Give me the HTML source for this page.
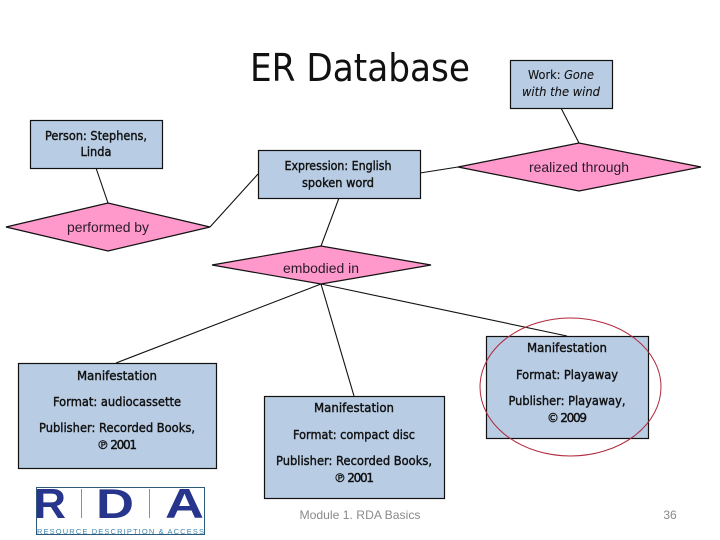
<!DOCTYPE html>
<html>
<head>
<meta charset="utf-8">
<style>
html,body{margin:0;padding:0;background:#fff;width:720px;height:540px;overflow:hidden}
svg{display:block}
.b{font-family:"DejaVu Sans","Liberation Sans",sans-serif;font-size:12px;fill:#111;text-anchor:middle;font-weight:400;stroke:#111;stroke-width:.4px}
.d{font-family:"Liberation Sans",sans-serif;font-size:14px;fill:#2a1a2a;text-anchor:middle}
.r{fill:#b8cce4;stroke:#111;stroke-width:1.2}
.p{fill:#ff99cc;stroke:#111;stroke-width:1.2}
.l{stroke:#111;stroke-width:1.1;fill:none}
</style>
</head>
<body>
<svg width="720" height="540" viewBox="0 0 720 540" xmlns="http://www.w3.org/2000/svg">
<text x="360" y="81" font-family="DejaVu Sans, Liberation Sans, sans-serif" font-size="38" fill="#111" text-anchor="middle" textLength="220" lengthAdjust="spacingAndGlyphs">ER Database</text>

<!-- connectors -->
<line class="l" x1="96" y1="168" x2="108" y2="203"/>
<line class="l" x1="210" y1="227" x2="258" y2="174"/>
<line class="l" x1="339" y1="198" x2="321" y2="246"/>
<line class="l" x1="420" y1="173" x2="458" y2="167"/>
<line class="l" x1="561" y1="108" x2="579" y2="143"/>
<line class="l" x1="321" y1="284" x2="116" y2="363"/>
<line class="l" x1="321" y1="284" x2="354" y2="396"/>
<line class="l" x1="321" y1="284" x2="567" y2="336"/>

<!-- boxes -->
<rect class="r" x="30.500" y="120.500" width="132" height="48"/>
<rect class="r" x="258.500" y="150.500" width="162" height="48"/>
<rect class="r" x="510.500" y="60.500" width="102" height="48"/>
<rect class="r" x="18.500" y="363.500" width="198" height="105"/>
<rect class="r" x="264.500" y="396.500" width="180" height="102"/>
<rect class="r" x="486.500" y="336.500" width="162" height="102"/>

<!-- diamonds -->
<polygon class="p" points="6,227 108,203 210,227 108,251"/>
<polygon class="p" points="458,167 579,143 701,167 579,191"/>
<polygon class="p" points="212,265 321,246 431,265 321,284"/>

<text class="d" x="108" y="232" textLength="82" lengthAdjust="spacingAndGlyphs">performed by</text>
<text class="d" x="579" y="172" textLength="100" lengthAdjust="spacingAndGlyphs">realized through</text>
<text class="d" x="321" y="273" textLength="76" lengthAdjust="spacingAndGlyphs">embodied in</text>

<text class="b" x="96" y="140" textLength="102" lengthAdjust="spacingAndGlyphs">Person: Stephens,</text>
<text class="b" x="96" y="156" textLength="31" lengthAdjust="spacingAndGlyphs">Linda</text>

<text class="b" x="338" y="170" textLength="107" lengthAdjust="spacingAndGlyphs">Expression: English</text>
<text class="b" x="338" y="187" textLength="72" lengthAdjust="spacingAndGlyphs">spoken word</text>

<text class="b" x="561" y="79" textLength="66" lengthAdjust="spacingAndGlyphs" style="stroke-width:.1px">Work: <tspan font-style="italic">Gone</tspan></text>
<text class="b" x="561" y="96" textLength="78" lengthAdjust="spacingAndGlyphs" font-style="italic" style="stroke-width:.1px">with the wind</text>

<text class="b" x="117" y="380" textLength="80" lengthAdjust="spacingAndGlyphs">Manifestation</text>
<text class="b" x="117" y="406" textLength="128" lengthAdjust="spacingAndGlyphs">Format: audiocassette</text>
<text class="b" x="117" y="432" textLength="156" lengthAdjust="spacingAndGlyphs">Publisher: Recorded Books,</text>
<text class="b" x="117" y="449" textLength="40" lengthAdjust="spacing">℗ 2001</text>

<text class="b" x="354" y="412" textLength="80" lengthAdjust="spacingAndGlyphs">Manifestation</text>
<text class="b" x="354" y="439" textLength="122" lengthAdjust="spacingAndGlyphs">Format: compact disc</text>
<text class="b" x="354" y="465" textLength="156" lengthAdjust="spacingAndGlyphs">Publisher: Recorded Books,</text>
<text class="b" x="354" y="482" textLength="40" lengthAdjust="spacing">℗ 2001</text>

<text class="b" x="567" y="352" textLength="80" lengthAdjust="spacingAndGlyphs">Manifestation</text>
<text class="b" x="567" y="379" textLength="102" lengthAdjust="spacingAndGlyphs">Format: Playaway</text>
<text class="b" x="567" y="405" textLength="117" lengthAdjust="spacingAndGlyphs">Publisher: Playaway,</text>
<text class="b" x="567" y="422" textLength="40" lengthAdjust="spacing">© 2009</text>

<!-- red ellipse -->
<ellipse cx="570.500" cy="387" rx="90.500" ry="69" fill="none" stroke="#b0283c" stroke-width="1"/>

<!-- logo -->
<g>
<rect x="36.500" y="487.500" width="168" height="47" fill="#fff" stroke="#2d5a7a" stroke-width="1"/>
<text x="34" y="518" font-family="Liberation Sans, sans-serif" font-size="42" font-weight="700" fill="#27358c" textLength="32" lengthAdjust="spacingAndGlyphs">R</text>
<line x1="81.500" y1="489" x2="81.500" y2="518" stroke="#6a9ab8"/>
<text x="96" y="518" font-family="Liberation Sans, sans-serif" font-size="42" font-weight="700" fill="#27358c" textLength="38" lengthAdjust="spacingAndGlyphs">D</text>
<line x1="149.500" y1="489" x2="149.500" y2="518" stroke="#6a9ab8"/>
<text x="165" y="518" font-family="Liberation Sans, sans-serif" font-size="42" font-weight="700" fill="#27358c" textLength="39" lengthAdjust="spacingAndGlyphs">A</text>
<text x="37" y="534" font-family="Liberation Sans, sans-serif" font-size="7.500" fill="#3f86ad" textLength="167" lengthAdjust="spacing">RESOURCE DESCRIPTION &amp; ACCESS</text>
</g>

<text x="360" y="519" font-family="Liberation Sans, sans-serif" font-size="12" fill="#8a8a8a" text-anchor="middle" textLength="121" lengthAdjust="spacingAndGlyphs">Module 1. RDA Basics</text>
<text x="670" y="519" font-family="Liberation Sans, sans-serif" font-size="12" fill="#8a8a8a" text-anchor="middle">36</text>
</svg>
</body>
</html>
